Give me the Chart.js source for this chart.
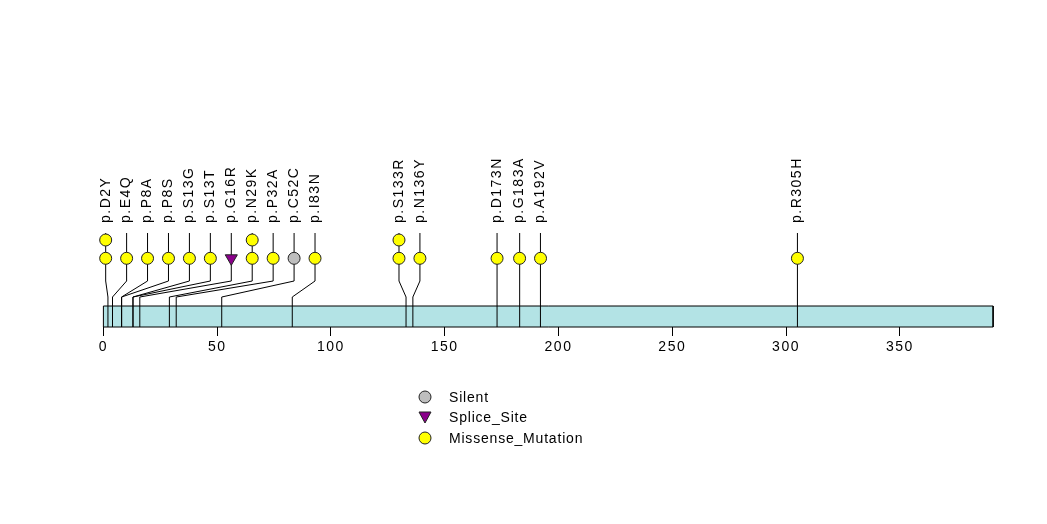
<!DOCTYPE html>
<html>
<head>
<meta charset="utf-8">
<script src="https://cdn.jsdelivr.net/npm/chart.js@4.4.1/dist/chart.umd.min.js"></script>
<style>
  html, body { margin: 0; padding: 0; background: #ffffff; }
  canvas { display: block; }
</style>
</head>
<body>
<canvas id="c" width="1047" height="524"></canvas>
<script>
// ---- data ----
const proteinLength = 391;
const tickValues = [0, 50, 100, 150, 200, 250, 300, 350];
const mutationLabels = ['p.D2Y','p.E4Q','p.P8A','p.P8S','p.S13G','p.S13T','p.G16R','p.N29K','p.P32A','p.C52C','p.I83N','p.S133R','p.N136Y','p.D173N','p.G183A','p.A192V','p.R305H'];
const mutationPositions = [2, 4, 8, 8, 13, 13, 16, 29, 32, 52, 83, 133, 136, 173, 183, 192, 305];
const mutationCounts = [2, 1, 1, 1, 1, 1, 1, 2, 1, 1, 1, 2, 1, 1, 1, 1, 1];
const mutationTypes = ['Missense_Mutation','Missense_Mutation','Missense_Mutation','Missense_Mutation','Missense_Mutation','Missense_Mutation','Splice_Site','Missense_Mutation','Missense_Mutation','Silent','Missense_Mutation','Missense_Mutation','Missense_Mutation','Missense_Mutation','Missense_Mutation','Missense_Mutation','Missense_Mutation'];
const legendCategories = ['Silent', 'Splice_Site', 'Missense_Mutation'];

// ---- styles ----
const typeStyle = {
  'Silent': { color: '#bebebe', shape: 'circle' },
  'Splice_Site': { color: '#8b008b', shape: 'triangle' },
  'Missense_Mutation': { color: '#ffff00', shape: 'circle' }
};
const FONT = '"Liberation Sans", Arial, Helvetica, sans-serif';

// layout constants (y in chart units = pixels above protein bar bottom)
const BAR_H = 21, BEND1 = 30, BEND2 = 46, MARK_Y = 68.7, STACK_DY = 18.3, LINE_TOP = 94, LABEL_Y = 104;
const LABEL_GAP = 9.2, LABEL_LO = 1;

// spread label positions so they don't overlap
function spreadLabels(pos, gap, lo) {
  const idx = pos.map((p, i) => i).sort((a, b) => pos[a] - pos[b] || a - b);
  let clusters = idx.map(i => ({ items: [i] }));
  const startOf = c => {
    const ps = c.items.map(i => pos[i]);
    const mid = (Math.min(...ps) + Math.max(...ps)) / 2;
    return Math.max(lo, mid - (c.items.length - 1) * gap / 2);
  };
  let changed = true;
  while (changed) {
    changed = false;
    for (let k = 0; k < clusters.length - 1; k++) {
      const a = clusters[k], b = clusters[k + 1];
      if (startOf(b) < startOf(a) + a.items.length * gap) {
        clusters.splice(k, 2, { items: a.items.concat(b.items) });
        changed = true;
        break;
      }
    }
  }
  const out = new Array(pos.length);
  clusters.forEach(c => {
    const s = startOf(c);
    c.items.forEach((i, j) => { out[i] = s + j * gap; });
  });
  return out;
}
const labelX = spreadLabels(mutationPositions, LABEL_GAP, LABEL_LO);

// ---- datasets ----
const datasets = [];
legendCategories.forEach(t => {
  const pts = [];
  mutationPositions.forEach((p, i) => {
    if (mutationTypes[i] !== t) return;
    for (let k = 0; k < mutationCounts[i]; k++) pts.push({ x: labelX[i], y: MARK_Y + k * STACK_DY });
  });
  const st = typeStyle[t];
  datasets.push({
    type: 'scatter', label: t, data: pts, order: 0, clip: false,
    pointStyle: st.shape, rotation: st.shape === 'triangle' ? 180 : 0,
    pointRadius: st.shape === 'triangle' ? 7 : 6,
    backgroundColor: st.color, borderColor: '#222', borderWidth: 1, showLine: false
  });
});
mutationPositions.forEach((p, i) => {
  datasets.push({
    type: 'line', label: 'line' + i, order: 1, clip: false, pointRadius: 0,
    borderColor: '#000', borderWidth: 1, fill: false, tension: 0,
    data: [{ x: p, y: 0 }, { x: p, y: BEND1 }, { x: labelX[i], y: BEND2 }, { x: labelX[i], y: LINE_TOP }]
  });
});
// protein outline
datasets.push({
  type: 'line', label: 'protein-outline', order: 2, clip: false, pointRadius: 0,
  borderColor: '#000', borderWidth: 1, fill: false, tension: 0,
  data: [{ x: 0, y: 0 }, { x: 0, y: BAR_H }, { x: proteinLength, y: BAR_H }, { x: proteinLength, y: 0 }, { x: 0, y: 0 }]
});
// protein fill
datasets.push({
  type: 'line', label: 'protein', order: 3, clip: false, pointRadius: 0,
  borderWidth: 0, borderColor: 'rgba(0,0,0,0)', backgroundColor: '#b3e3e5', fill: 'origin', tension: 0,
  data: [{ x: 0, y: BAR_H }, { x: proteinLength, y: BAR_H }]
});

// ---- plugins ----
const textPlugin = {
  id: 'texts',
  beforeDraw(chart) {
    chart.ctx.letterSpacing = '1.5px';
  },
  afterDatasetsDraw(chart) {
    const ctx = chart.ctx, xs = chart.scales.x, ys = chart.scales.y;
    ctx.save();
    ctx.fillStyle = '#000';
    ctx.font = '14px ' + FONT;
    ctx.letterSpacing = '1.5px';
    ctx.textAlign = 'left';
    ctx.textBaseline = 'middle';
    mutationLabels.forEach((lab, i) => {
      ctx.save();
      ctx.translate(xs.getPixelForValue(labelX[i]), ys.getPixelForValue(LABEL_Y));
      ctx.rotate(-Math.PI / 2);
      ctx.fillText(lab, 0, 0);
      ctx.restore();
    });
    ctx.restore();
  },
  afterDraw(chart) {
    const ctx = chart.ctx;
    ctx.save();
    const lx = 425, tx = 449, ys = [397, 417, 438];
    legendCategories.forEach((t, k) => {
      const st = typeStyle[t], y = ys[k];
      ctx.fillStyle = st.color;
      ctx.strokeStyle = '#222';
      ctx.lineWidth = 1;
      ctx.beginPath();
      if (st.shape === 'circle') {
        ctx.arc(lx, y, 6, 0, Math.PI * 2);
      } else {
        ctx.moveTo(lx - 6, y - 5);
        ctx.lineTo(lx + 6, y - 5);
        ctx.lineTo(lx, y + 6);
        ctx.closePath();
      }
      ctx.fill();
      ctx.stroke();
      ctx.fillStyle = '#000';
      ctx.font = '14px ' + FONT;
      ctx.letterSpacing = '0.8px';
      ctx.textAlign = 'left';
      ctx.textBaseline = 'middle';
      ctx.fillText(t, tx, y + 1);
    });
    ctx.restore();
  }
};

const PX0 = 103.4, PXU = 2.2755, W = 1047;
new Chart(document.getElementById('c'), {
  type: 'scatter',
  data: { datasets },
  plugins: [textPlugin],
  options: {
    responsive: false,
    animation: false,
    events: [],
    layout: { autoPadding: false, padding: { left: 0, right: 0, top: 0, bottom: 157 } },
    plugins: { legend: { display: false }, tooltip: { enabled: false }, filler: { propagate: false } },
    scales: {
      x: {
        type: 'linear',
        min: -PX0 / PXU,
        max: (W - PX0) / PXU,
        afterBuildTicks: s => { s.ticks = tickValues.map(v => ({ value: v })); },
        afterFit: s => { s.height = 40; s.paddingLeft = 0; s.paddingRight = 0; },
        border: { display: false },
        grid: { display: true, drawOnChartArea: false, drawTicks: true, tickLength: 9, color: '#000', lineWidth: 1 },
        ticks: { color: '#000', font: { family: FONT, size: 14 }, padding: 3, maxRotation: 0, autoSkip: false }
      },
      y: { type: 'linear', display: false, min: 0, max: 327 }
    }
  }
});
</script>
</body>
</html>
